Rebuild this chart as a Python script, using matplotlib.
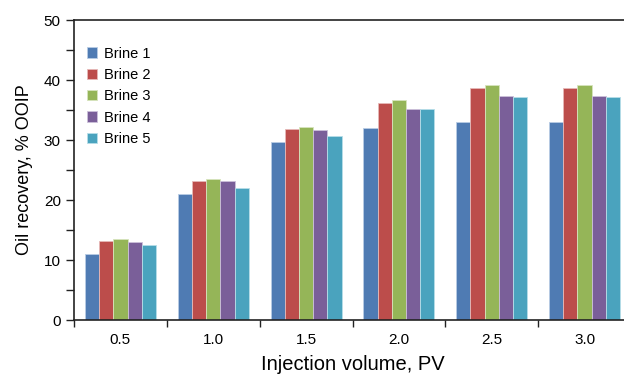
import matplotlib
matplotlib.use("Agg")
import matplotlib.pyplot as plt
import numpy as np
from matplotlib.ticker import MultipleLocator

plt.rcParams['font.family'] = ['Liberation Sans', 'DejaVu Sans']

categories = ["0.5", "1.0", "1.5", "2.0", "2.5", "3.0"]
series_names = ["Brine 1", "Brine 2", "Brine 3", "Brine 4", "Brine 5"]
brine1 = [11.0, 21.0, 29.6, 32.0, 33.0, 33.0]
brine2 = [13.2, 23.2, 31.8, 36.1, 38.7, 38.7]
brine3 = [13.5, 23.5, 32.1, 36.6, 39.1, 39.1]
brine4 = [13.0, 23.1, 31.6, 35.2, 37.3, 37.3]
brine5 = [12.5, 22.0, 30.6, 35.2, 37.1, 37.1]
values = [brine1, brine2, brine3, brine4, brine5]
colors = ["#4F7BB3", "#BC4D4B", "#95B558", "#7A5F99", "#4AA3BE"]
edges = ["#B8CCE4", "#E6B9B8", "#D7E4BD", "#CCC1DA", "#B7DEE8"]

W, H = 624, 375
fig = plt.figure(figsize=(W / 100, H / 100), dpi=100)
left, right, top, bottom = 74, 631, 20, 320
ax = fig.add_axes([left / W, 1 - bottom / H, (right - left) / W, (bottom - top) / H])

x = np.arange(len(categories))
bw = 0.153
for i, (vals, c, ec) in enumerate(zip(values, colors, edges)):
    ax.bar(x + (i - 2) * bw, vals, width=bw, color=c, edgecolor=ec, linewidth=0.6,
           label=series_names[i], zorder=2)

ax.set_xlim(-0.5, len(categories) - 0.5)
ax.set_ylim(0, 50)
ax.yaxis.set_major_locator(MultipleLocator(10))
ax.yaxis.set_minor_locator(MultipleLocator(5))
ax.set_xticks(np.arange(-0.5, len(categories) + 0.5, 1.0))
ax.set_xticklabels([])
ax.set_xticks(x, minor=True)
ax.set_xticklabels(categories, minor=True)
ax.tick_params(axis='x', which='major', direction='out', length=5, width=1, color='#222222')
ax.tick_params(axis='x', which='minor', length=0, pad=9, labelsize=11)
ax.tick_params(axis='y', which='both', direction='out', length=5.5, width=1, color='#222222',
               labelsize=11, pad=4)

for s in ['left', 'bottom', 'top']:
    ax.spines[s].set_linewidth(1.2)
    ax.spines[s].set_color('#222222')
ax.spines['right'].set_visible(False)

ax.set_xlabel("Injection volume, PV", fontsize=14.5, labelpad=6)
ax.set_ylabel("Oil recovery, % OOIP", fontsize=13, labelpad=8)

ax.legend(loc='upper left', bbox_to_anchor=(0.0, 0.955), frameon=False, fontsize=10.5,
          handlelength=0.7, handleheight=0.7, handletextpad=0.45, labelspacing=0.5,
          borderaxespad=0.5)

fig.savefig("out.png", dpi=100)
